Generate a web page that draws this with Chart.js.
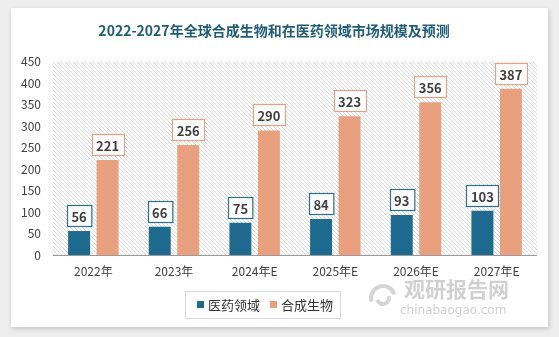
<!DOCTYPE html>
<html>
<head>
<meta charset="utf-8">
<script src="https://cdn.jsdelivr.net/npm/chart.js@4.4.1/dist/chart.umd.min.js"></script>
<style>
  html, body { margin: 0; padding: 0; background: #eeeeee; }
  body { width: 559px; height: 337px; position: relative; overflow: hidden; }
  #card {
    position: absolute; left: 11px; top: 8px; width: 537px; height: 319px;
    background: #ffffff; box-shadow: 1px 2px 5px rgba(0,0,0,0.18);
  }
  canvas { display: block; }
</style>
</head>
<body>
<div id="card"><canvas id="chart" width="537" height="319"></canvas></div>
<script>
// ── Data ─────────────────────────────────────────────
const years    = ['2022年', '2023年', '2024年E', '2025年E', '2026年E', '2027年E'];
const medical  = [56, 66, 75, 84, 93, 103];
const synbio   = [221, 256, 290, 323, 356, 387];
const yTicks   = [0, 50, 100, 150, 200, 250, 300, 350, 400, 450];
const title    = '2022-2027年全球合成生物和在医药领域市场规模及预测';

const BLUE   = '#1f6b8f';
const ORANGE = '#e9a07e';
const FONT   = '"Noto Sans CJK SC", "Noto Sans", sans-serif';

// ── Hatched plot background ──────────────────────────
function hatchPattern(ctx) {
  const c = document.createElement('canvas');
  c.width = 4; c.height = 4;
  const g = c.getContext('2d');
  g.fillStyle = '#ffffff';
  g.fillRect(0, 0, 4, 4);
  g.strokeStyle = '#d9d9d9';
  g.lineWidth = 1;
  g.beginPath();
  g.moveTo(-1, -1); g.lineTo(5, 5);
  g.moveTo(-1, 3);  g.lineTo(1, 5);
  g.moveTo(3, -1);  g.lineTo(5, 1);
  g.stroke();
  return ctx.createPattern(c, 'repeat');
}

const hatchPlugin = {
  id: 'hatch',
  beforeDatasetsDraw(chart) {
    const { ctx, chartArea: a, scales } = chart;
    ctx.save();
    ctx.fillStyle = hatchPattern(ctx);
    ctx.fillRect(a.left, a.top, a.right - a.left, a.bottom - a.top);
    // baseline
    const y0 = Math.round(scales.y.getPixelForValue(0)) + 0.5;
    ctx.strokeStyle = '#9a9a9a';
    ctx.lineWidth = 1;
    ctx.beginPath();
    ctx.moveTo(a.left, y0); ctx.lineTo(a.right, y0);
    ctx.stroke();
    ctx.restore();
  }
};

// ── Boxed value labels ───────────────────────────────
const boxLabels = {
  id: 'boxLabels',
  afterDatasetsDraw(chart) {
    const { ctx } = chart;
    ctx.save();
    ctx.font = 'bold 13px ' + FONT;
    ctx.textAlign = 'center';
    ctx.textBaseline = 'middle';
    chart.data.datasets.forEach((ds, di) => {
      chart.getDatasetMeta(di).data.forEach((bar, i) => {
        const txt = String(ds.data[i]);
        const w = Math.max(22, ctx.measureText(txt).width + 9);
        const h = 21;
        const x = Math.round(bar.x - w / 2) + 0.5;
        const y = Math.round(bar.y - 5 - h) + 0.5;
        ctx.fillStyle = '#ffffff';
        ctx.fillRect(x, y, w, h);
        ctx.strokeStyle = ds.labelBorder;
        ctx.lineWidth = 1.2;
        ctx.strokeRect(x, y, w, h);
        ctx.fillStyle = '#404040';
        ctx.fillText(txt, bar.x, y + h / 2 + 1);
      });
    });
    ctx.restore();
  }
};

// ── Custom legend + watermark ────────────────────────
const legendBox = {
  id: 'legendBox',
  afterDraw(chart) {
    const { ctx } = chart;
    ctx.save();
    // frame
    ctx.strokeStyle = '#d9d9d9';
    ctx.lineWidth = 1;
    ctx.strokeRect(174.5, 283.5, 155, 27);
    ctx.font = '13px ' + FONT;
    ctx.textBaseline = 'middle';
    ctx.textAlign = 'left';
    let x = 186;
    chart.data.datasets.forEach(ds => {
      ctx.fillStyle = ds.backgroundColor;
      ctx.fillRect(x, 293, 7, 7);
      ctx.fillStyle = '#333333';
      ctx.fillText(ds.label, x + 11, 297);
      x += 73;
    });
    // watermark
    ctx.fillStyle = 'rgba(150,150,150,0.45)';
    ctx.font = 'bold 21px ' + FONT;
    ctx.fillText('观研报告网', 393, 281);
    ctx.font = '12px "DejaVu Sans", sans-serif';
    ctx.fillText('chinabaogao.com', 389, 303);
    ctx.strokeStyle = 'rgba(150,150,150,0.4)';
    ctx.lineWidth = 4;
    ctx.beginPath();
    ctx.arc(372, 290, 12, Math.PI * 0.9, Math.PI * 1.9);
    ctx.stroke();
    ctx.beginPath();
    ctx.arc(372, 290, 6, Math.PI * -0.1, Math.PI * 0.9);
    ctx.stroke();
    ctx.restore();
  }
};

// ── Chart ────────────────────────────────────────────
new Chart(document.getElementById('chart'), {
  type: 'bar',
  data: {
    labels: years,
    datasets: [
      { label: '医药领域', data: medical, backgroundColor: BLUE,   labelBorder: '#2b6e8c',
        categoryPercentage: 0.707, barPercentage: 0.77 },
      { label: '合成生物', data: synbio,  backgroundColor: ORANGE, labelBorder: '#e6a184',
        categoryPercentage: 0.707, barPercentage: 0.77 }
    ]
  },
  options: {
    responsive: false, animation: false,
    layout: { padding: { left: 0, right: 11, top: 0, bottom: 0 } },
    plugins: {
      legend: { display: false },
      tooltip: { enabled: false },
      title: {
        display: true, text: title, color: '#1f5c78',
        font: { family: FONT, size: 14, weight: 'bold' },
        padding: { top: 14, bottom: 23 }
      }
    },
    scales: {
      x: {
        grid: { display: false, drawTicks: false },
        border: { display: false },
        ticks: { color: '#404040', font: { family: FONT, size: 12 }, padding: 9 },
        afterFit(s) { s.height = 72; }
      },
      y: {
        min: 0, max: 450,
        afterBuildTicks(s) { s.ticks = yTicks.map(v => ({ value: v })); },
        grid: { display: false, drawTicks: false },
        border: { display: false },
        ticks: { color: '#404040', font: { family: FONT, size: 12 }, padding: 12 },
        afterFit(s) { s.width = 42; }
      }
    }
  },
  plugins: [hatchPlugin, boxLabels, legendBox]
});
</script>
</body>
</html>
